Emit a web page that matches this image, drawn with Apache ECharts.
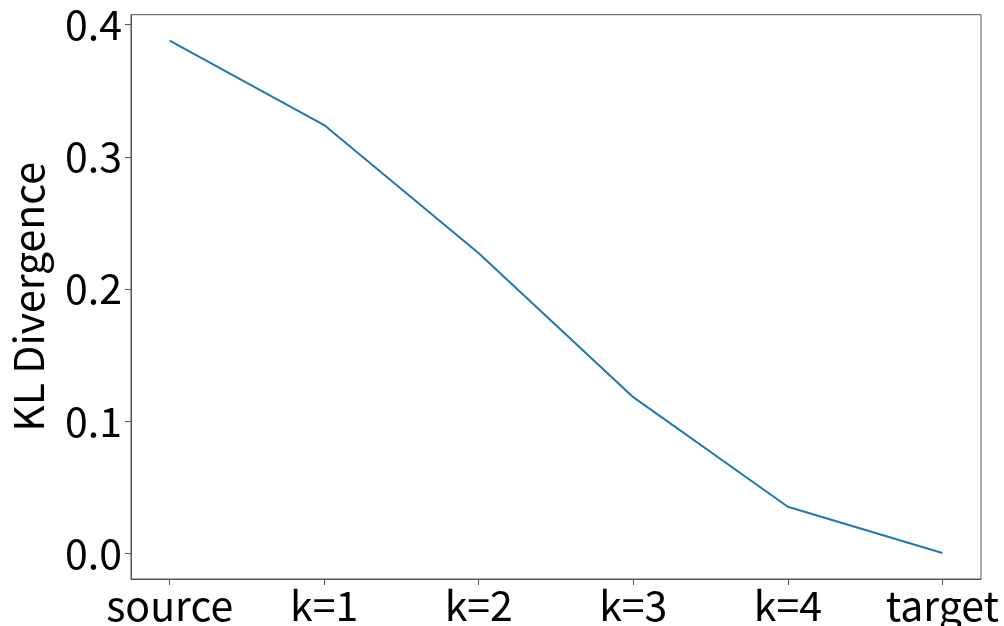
<!DOCTYPE html>
<html>
<head>
<meta charset="utf-8">
<script src="https://cdn.jsdelivr.net/npm/echarts@6/dist/echarts.min.js"></script>
<style>
html,body{margin:0;padding:0;background:#fff;}
#chart{width:1004px;height:626px;}
</style>
</head>
<body>
<div id="chart"></div>
<script>
const categories = ['source', 'k=1', 'k=2', 'k=3', 'k=4', 'target'];
const klValues = [0.388, 0.324, 0.227, 0.118, 0.035, 0.0];
const yTicks = [0.0, 0.1, 0.2, 0.3, 0.4];
const yAxisTitle = 'KL Divergence';

const FONT = '"Noto Sans CJK JP", "Noto Sans", sans-serif';
const FS = 41;
const chart = echarts.init(document.getElementById('chart'), null, {renderer: 'canvas'});
const xTicks = categories.map((c, i) => i);

chart.setOption({
  animation: false,
  backgroundColor: '#fff',
  grid: {left: 128.5, right: 23, top: 14.7, bottom: 46, show: true, borderColor: '#555', borderWidth: 1, backgroundColor: 'transparent'},
  xAxis: {
    type: 'value',
    min: -0.25,
    max: 5.25,
    splitLine: {show: false},
    axisLine: {show: true, onZero: false, lineStyle: {color: '#555', width: 1}},
    axisTick: {show: true, customValues: xTicks, length: 6, lineStyle: {color: '#555'}},
    axisLabel: {
      customValues: xTicks,
      margin: 6,
      color: '#000',
      fontFamily: FONT,
      fontSize: FS,
      formatter: v => categories[Math.round(v)]
    }
  },
  yAxis: {
    type: 'value',
    min: -0.0197,
    max: 0.4076,
    name: yAxisTitle,
    nameLocation: 'middle',
    nameGap: 82,
    nameTextStyle: {color: '#000', fontFamily: FONT, fontSize: FS},
    splitLine: {show: false},
    axisLine: {show: true, onZero: false, lineStyle: {color: '#555', width: 1}},
    axisTick: {show: true, customValues: yTicks, length: 6, lineStyle: {color: '#555'}},
    axisLabel: {
      customValues: yTicks,
      margin: 9,
      color: '#000',
      fontFamily: FONT,
      fontSize: FS,
      formatter: v => v.toFixed(1)
    }
  },
  series: [{
    type: 'line',
    data: klValues.map((v, i) => [i, v]),
    showSymbol: false,
    symbol: 'none',
    lineStyle: {color: '#1f77b4', width: 2},
    itemStyle: {color: '#1f77b4'}
  }]
});
</script>
</body>
</html>
